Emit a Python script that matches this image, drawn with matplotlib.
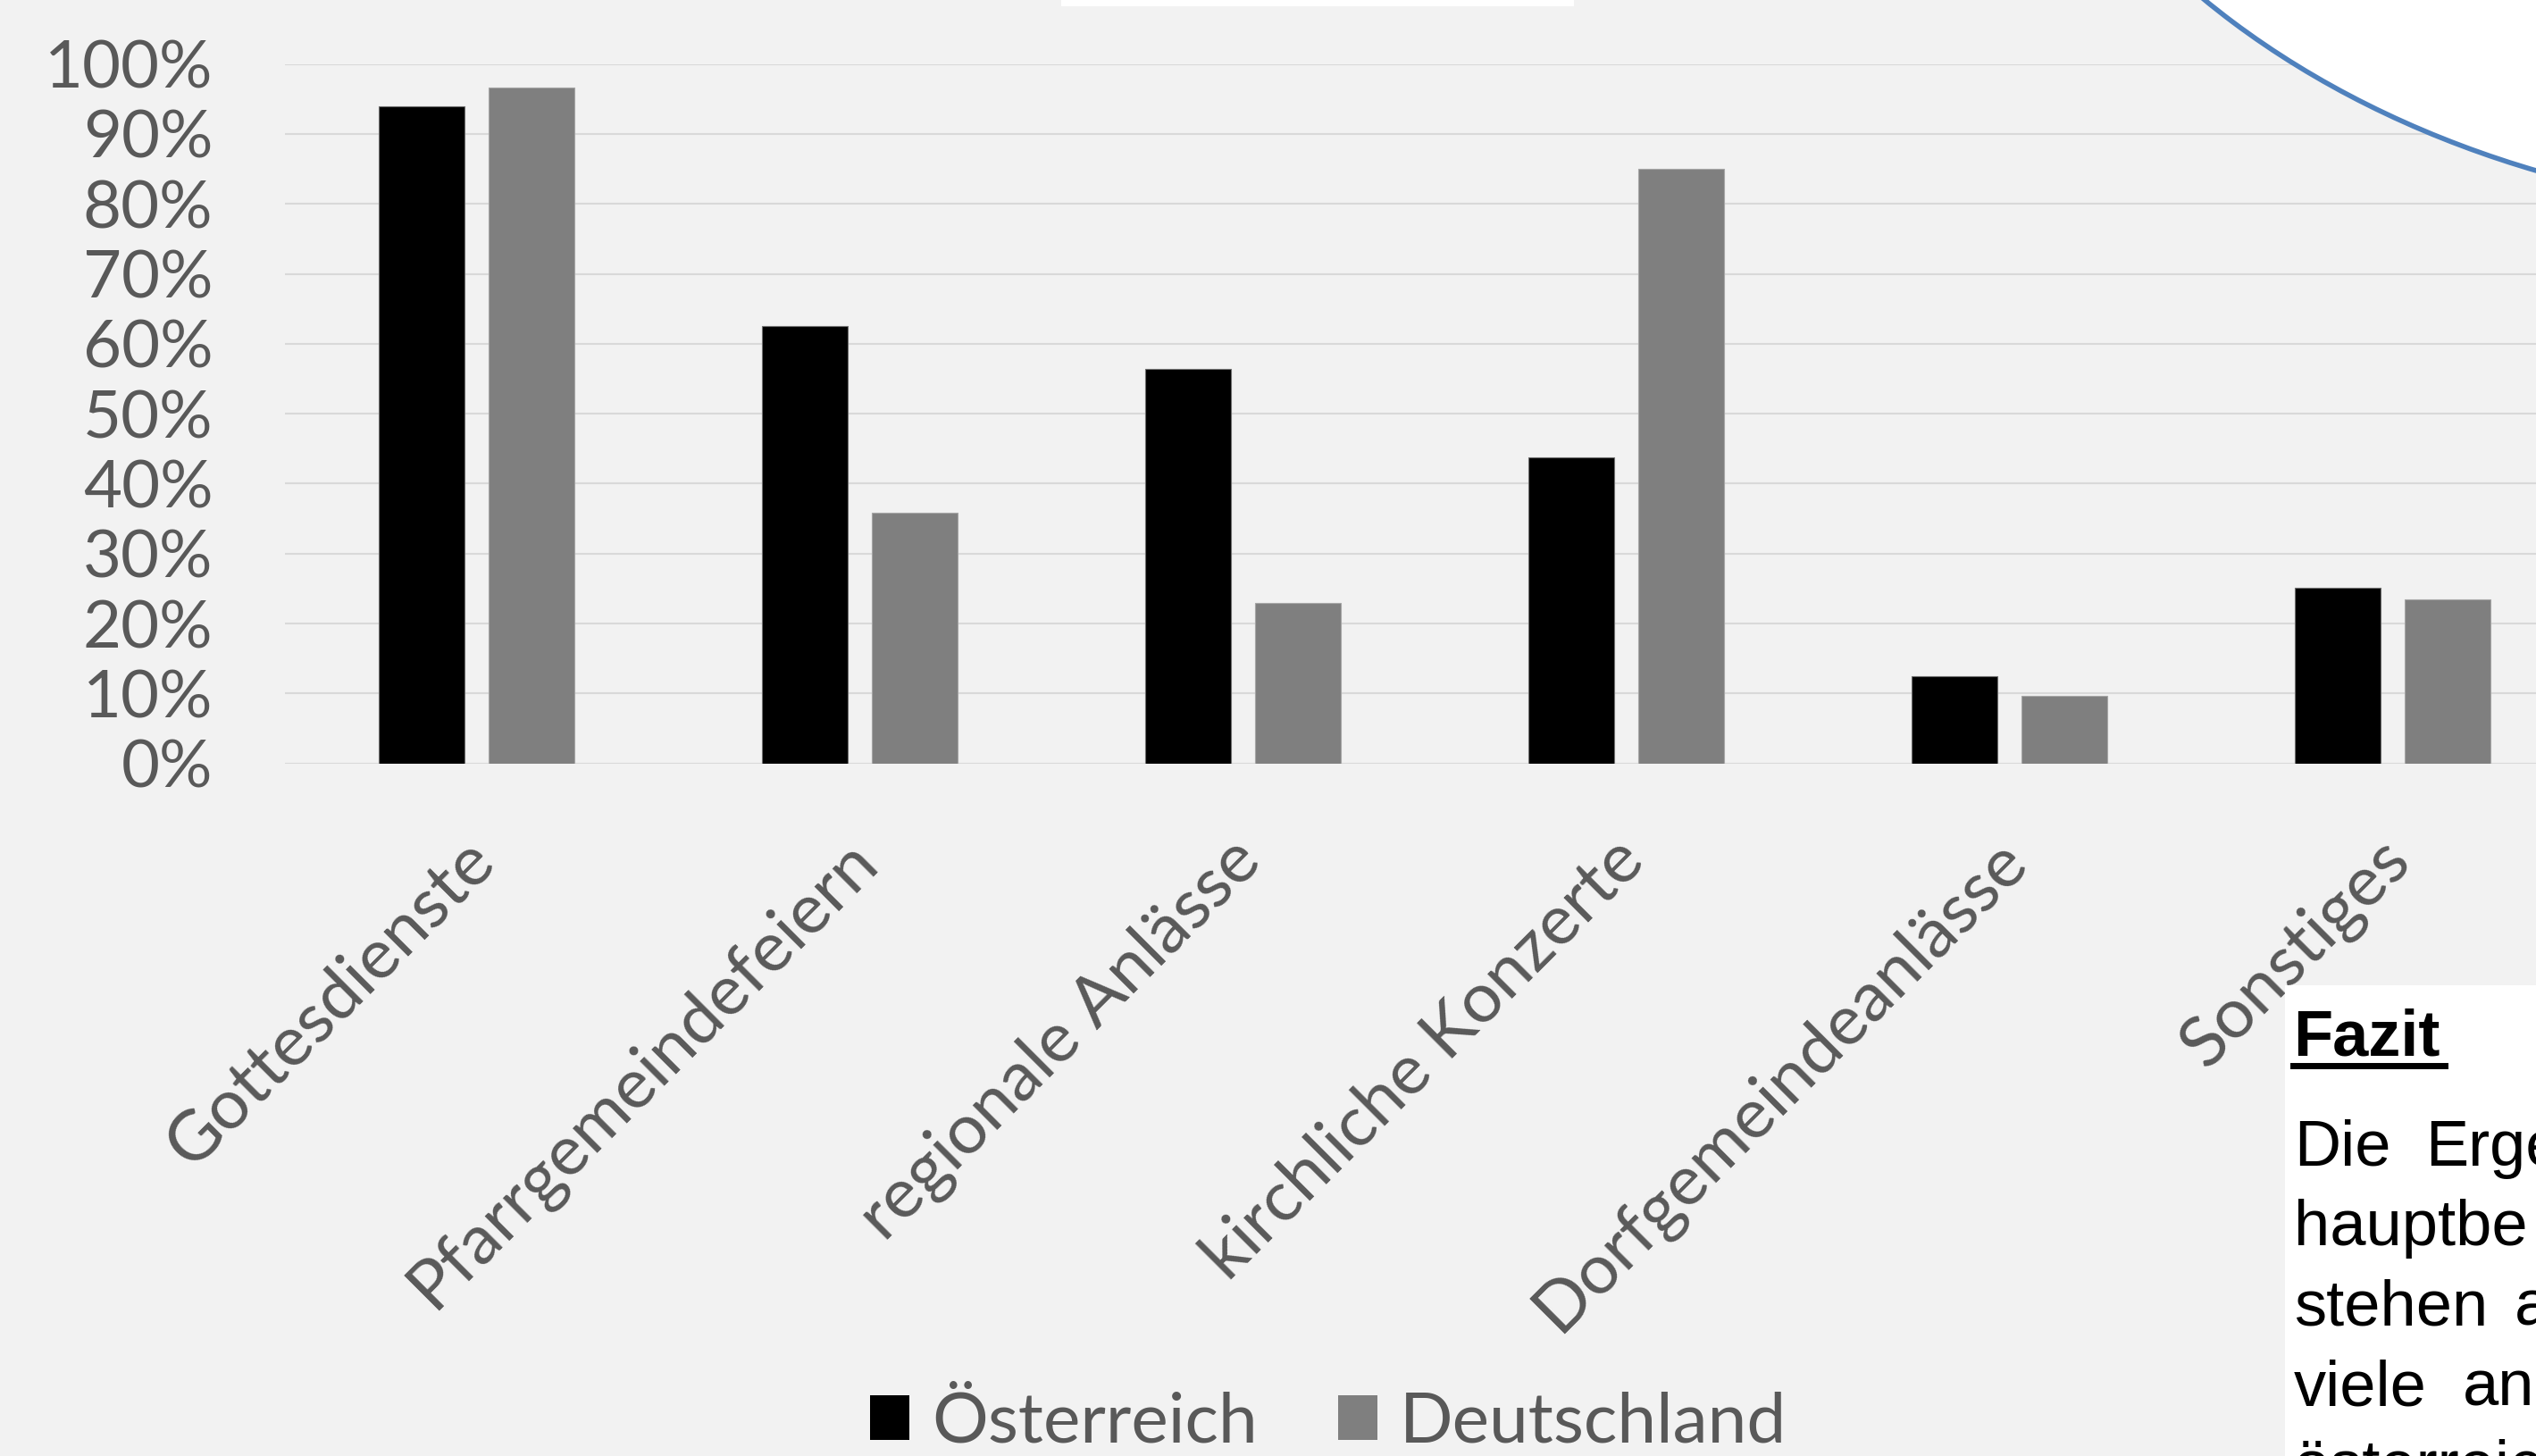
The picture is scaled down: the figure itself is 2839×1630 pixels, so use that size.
import matplotlib.pyplot as plt
import matplotlib.transforms as mtransforms
from matplotlib.patches import Patch, Ellipse, Rectangle
import numpy as np

categories = ["Gottesdienste", "Pfarrgemeindefeiern", "regionale Anlässe",
              "kirchliche Konzerte", "Dorfgemeindeanlässe", "Sonstiges"]
oesterreich = [93.9, 62.5, 56.4, 43.8, 12.5, 25.1]
deutschland = [96.6, 35.9, 23.0, 85.0, 9.7, 23.4]
series_names = ["Österreich", "Deutschland"]
yticks = [0, 10, 20, 30, 40, 50, 60, 70, 80, 90, 100]

fazit_lines = [["Die", "Erge"], ["hauptbe"], ["stehen", "a"], ["viele", "an"], ["österreic"]]

W, H = 2839, 1630
bg = "#F2F2F2"
txtc = "#595959"

plt.rcParams['font.family'] = ['Lato', 'DejaVu Sans']

fig = plt.figure(figsize=(W / 100, H / 100), dpi=100, facecolor=bg)

def px(x, y):
    # pixel (top-left origin) -> figure fraction
    return x / W, (H - y) / H

left, top, bottom = 319, 71.7, 854.6
cat_w = 429
ax = fig.add_axes([left / W, (H - bottom) / H, 6 * cat_w / W, (bottom - top) / H])
ax.set_facecolor(bg)

x = np.arange(len(categories))
bw = 0.224
off = 0.143
ax.bar(x - off, oesterreich, bw, color="black", edgecolor="#6f6f6f", linewidth=0.8, zorder=3)
ax.bar(x + off, deutschland, bw, color="#7F7F7F", edgecolor="#A6A6A6", linewidth=0.8, zorder=3)

ax.set_xlim(-0.5, 5.5)
ax.set_ylim(0, 100)
ax.set_yticks(yticks)
ax.set_yticklabels([f"{v}%" for v in yticks])
ax.yaxis.grid(True, color="#D9D9D9", linewidth=1.5, zorder=0)
ax.set_axisbelow(True)
for s in ax.spines.values():
    s.set_visible(False)
ax.tick_params(axis='y', length=0, pad=58, labelsize=53.5, labelcolor=txtc)

ax.set_xticks(x)
ax.set_xticklabels(categories, rotation=45, ha='right', va='center',
                   rotation_mode='anchor', fontsize=56.5, color=txtc)
ax.tick_params(axis='x', length=0, pad=70)
shift = mtransforms.ScaledTranslation(8 / 100, 0, fig.dpi_scale_trans)
for lab in ax.get_xticklabels():
    lab.set_transform(lab.get_transform() + shift)

handles = [Patch(facecolor="black"), Patch(facecolor="#7F7F7F")]
lx, ly = px(1487, 1593)
fig.legend(handles, series_names, loc='center', bbox_to_anchor=(lx, ly),
           frameon=False, fontsize=56.5, labelcolor=txtc, ncol=2,
           handlelength=0.56, handleheight=0.6, handletextpad=0.32,
           columnspacing=1.15)

# white shapes from the surrounding poster
fig.patches.append(Rectangle(px(1188, 7), 574 / W, 7 / H, transform=fig.transFigure,
                             facecolor="white", edgecolor="none", zorder=2))
ex, ey = px(3200, -500)
fig.patches.append(Ellipse((ex, ey), 1981 / W, 1484 / H, transform=fig.transFigure,
                           facecolor="white", edgecolor="#4F81BD", linewidth=4, zorder=2))

bx, by = px(2558, 1103)
fig.patches.append(Rectangle((bx, 0), 1 - bx, by, transform=fig.transFigure,
                             facecolor="white", edgecolor="none", zorder=2))

fx, fy = px(2567, 1181)
fig.text(fx, fy, "Fazit", fontsize=52, fontweight='bold', family='Liberation Sans',
         color="black", va='baseline', ha='left', zorder=3)
ux0, uy = px(2567, 1193)
ux1, _ = px(2737, 1193)
fig.lines.append(plt.Line2D([ux0, ux1], [uy, uy], transform=fig.transFigure,
                            color="black", linewidth=5, zorder=3))

word_x = [[2568, 2715], [2568], [2568, 2815], [2568, 2757], [2568]]
base = 1304.5
for i, words in enumerate(fazit_lines):
    for w, wx in zip(words, word_x[i]):
        tx, ty = px(wx, base + 89.5 * i)
        fig.text(tx, ty, w, fontsize=52, family='Liberation Sans', color="black",
                 va='baseline', ha='left', zorder=3)

fig.savefig("out.png", dpi=100, facecolor=bg)
